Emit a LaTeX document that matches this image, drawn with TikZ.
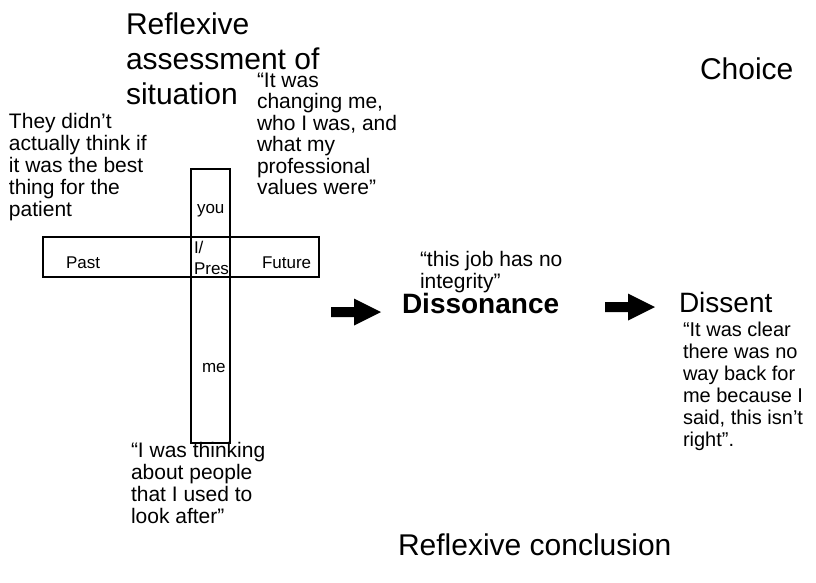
\documentclass[tikz,border=0pt]{standalone}
\usepackage{fontspec}
\setmainfont{Liberation Sans}
\begin{document}
\begin{tikzpicture}[x=1pt,y=-1pt,
  every node/.style={inner sep=0pt, outer sep=0pt},
  % multi-line nodes are placed by the baseline of their last line
  title/.style={anchor=base west, align=left, font=\fontsize{30}{35}\selectfont},
  quote/.style={anchor=base west, align=left, font=\fontsize{21}{22}\selectfont},
  rquote/.style={anchor=base west, align=left, font=\fontsize{20}{22}\selectfont},
  small/.style={anchor=base west, font=\fontsize{17}{20}\selectfont},
  stage/.style={anchor=base west, font=\fontsize{28}{32}\selectfont},
  bar/.style={draw=black, line width=1.1pt, fill=none},
  pics/blockarrow/.style={code={
    \fill[black] (0,-5) -- (23,-5) -- (23,-13.5) -- (50,0) -- (23,13.5) -- (23,5) -- (0,5) -- cycle;}}
]
\useasboundingbox (0,0) rectangle (816,582);

% the cross: time axis and self axis
\node[bar, minimum width=276pt, minimum height=40pt] (timebar) at (181,257) {};
\node[bar, minimum width=39pt, minimum height=274pt] (selfbar) at (210.5,306) {};

% headings
\node[title] (assess) at (126,104) {Reflexive\\assessment of\\situation};
\node[title] (choice) at (700,79) {Choice};
\node[title] (concl) at (398,555) {Reflexive conclusion};

% quotations around the cross
\node[quote] (qthey) at (9,216) {They didn’t\\actually think if\\it was the best\\thing for the\\patient};
\node[quote, font=\fontsize{21}{21.5}\selectfont] (qchange) at (257,194.5) {“It was\\changing me,\\who I was, and\\what my\\professional\\values were”};
\node[quote] (qthink) at (131,523) {“I was thinking\\about people\\that I used to\\look after”};
\node[quote] (qjob) at (420,288) {“this job has no\\integrity”};

% labels inside the cross
\node[small] (you) at (197,213) {you};
\node[small] (iself) at (194,253) {I/};
\node[small] (pres) at (194,274) {Pres};
\node[small] (past) at (66,268) {Past};
\node[small] (future) at (262,268) {Future};
\node[small] (me) at (202,372) {me};

% stages
\node[stage, font=\fontsize{28}{32}\selectfont\bfseries] (disson) at (402,313) {Dissonance};
\node[stage] (dissent) at (679,312) {Dissent};
\node[rquote] (qclear) at (683,446) {“It was clear\\there was no\\way back for\\me because I\\said, this isn’t\\right”.};

% block arrows between stages
\pic at (331,312) {blockarrow};
\pic at (605,307) {blockarrow};
\end{tikzpicture}
\end{document}
